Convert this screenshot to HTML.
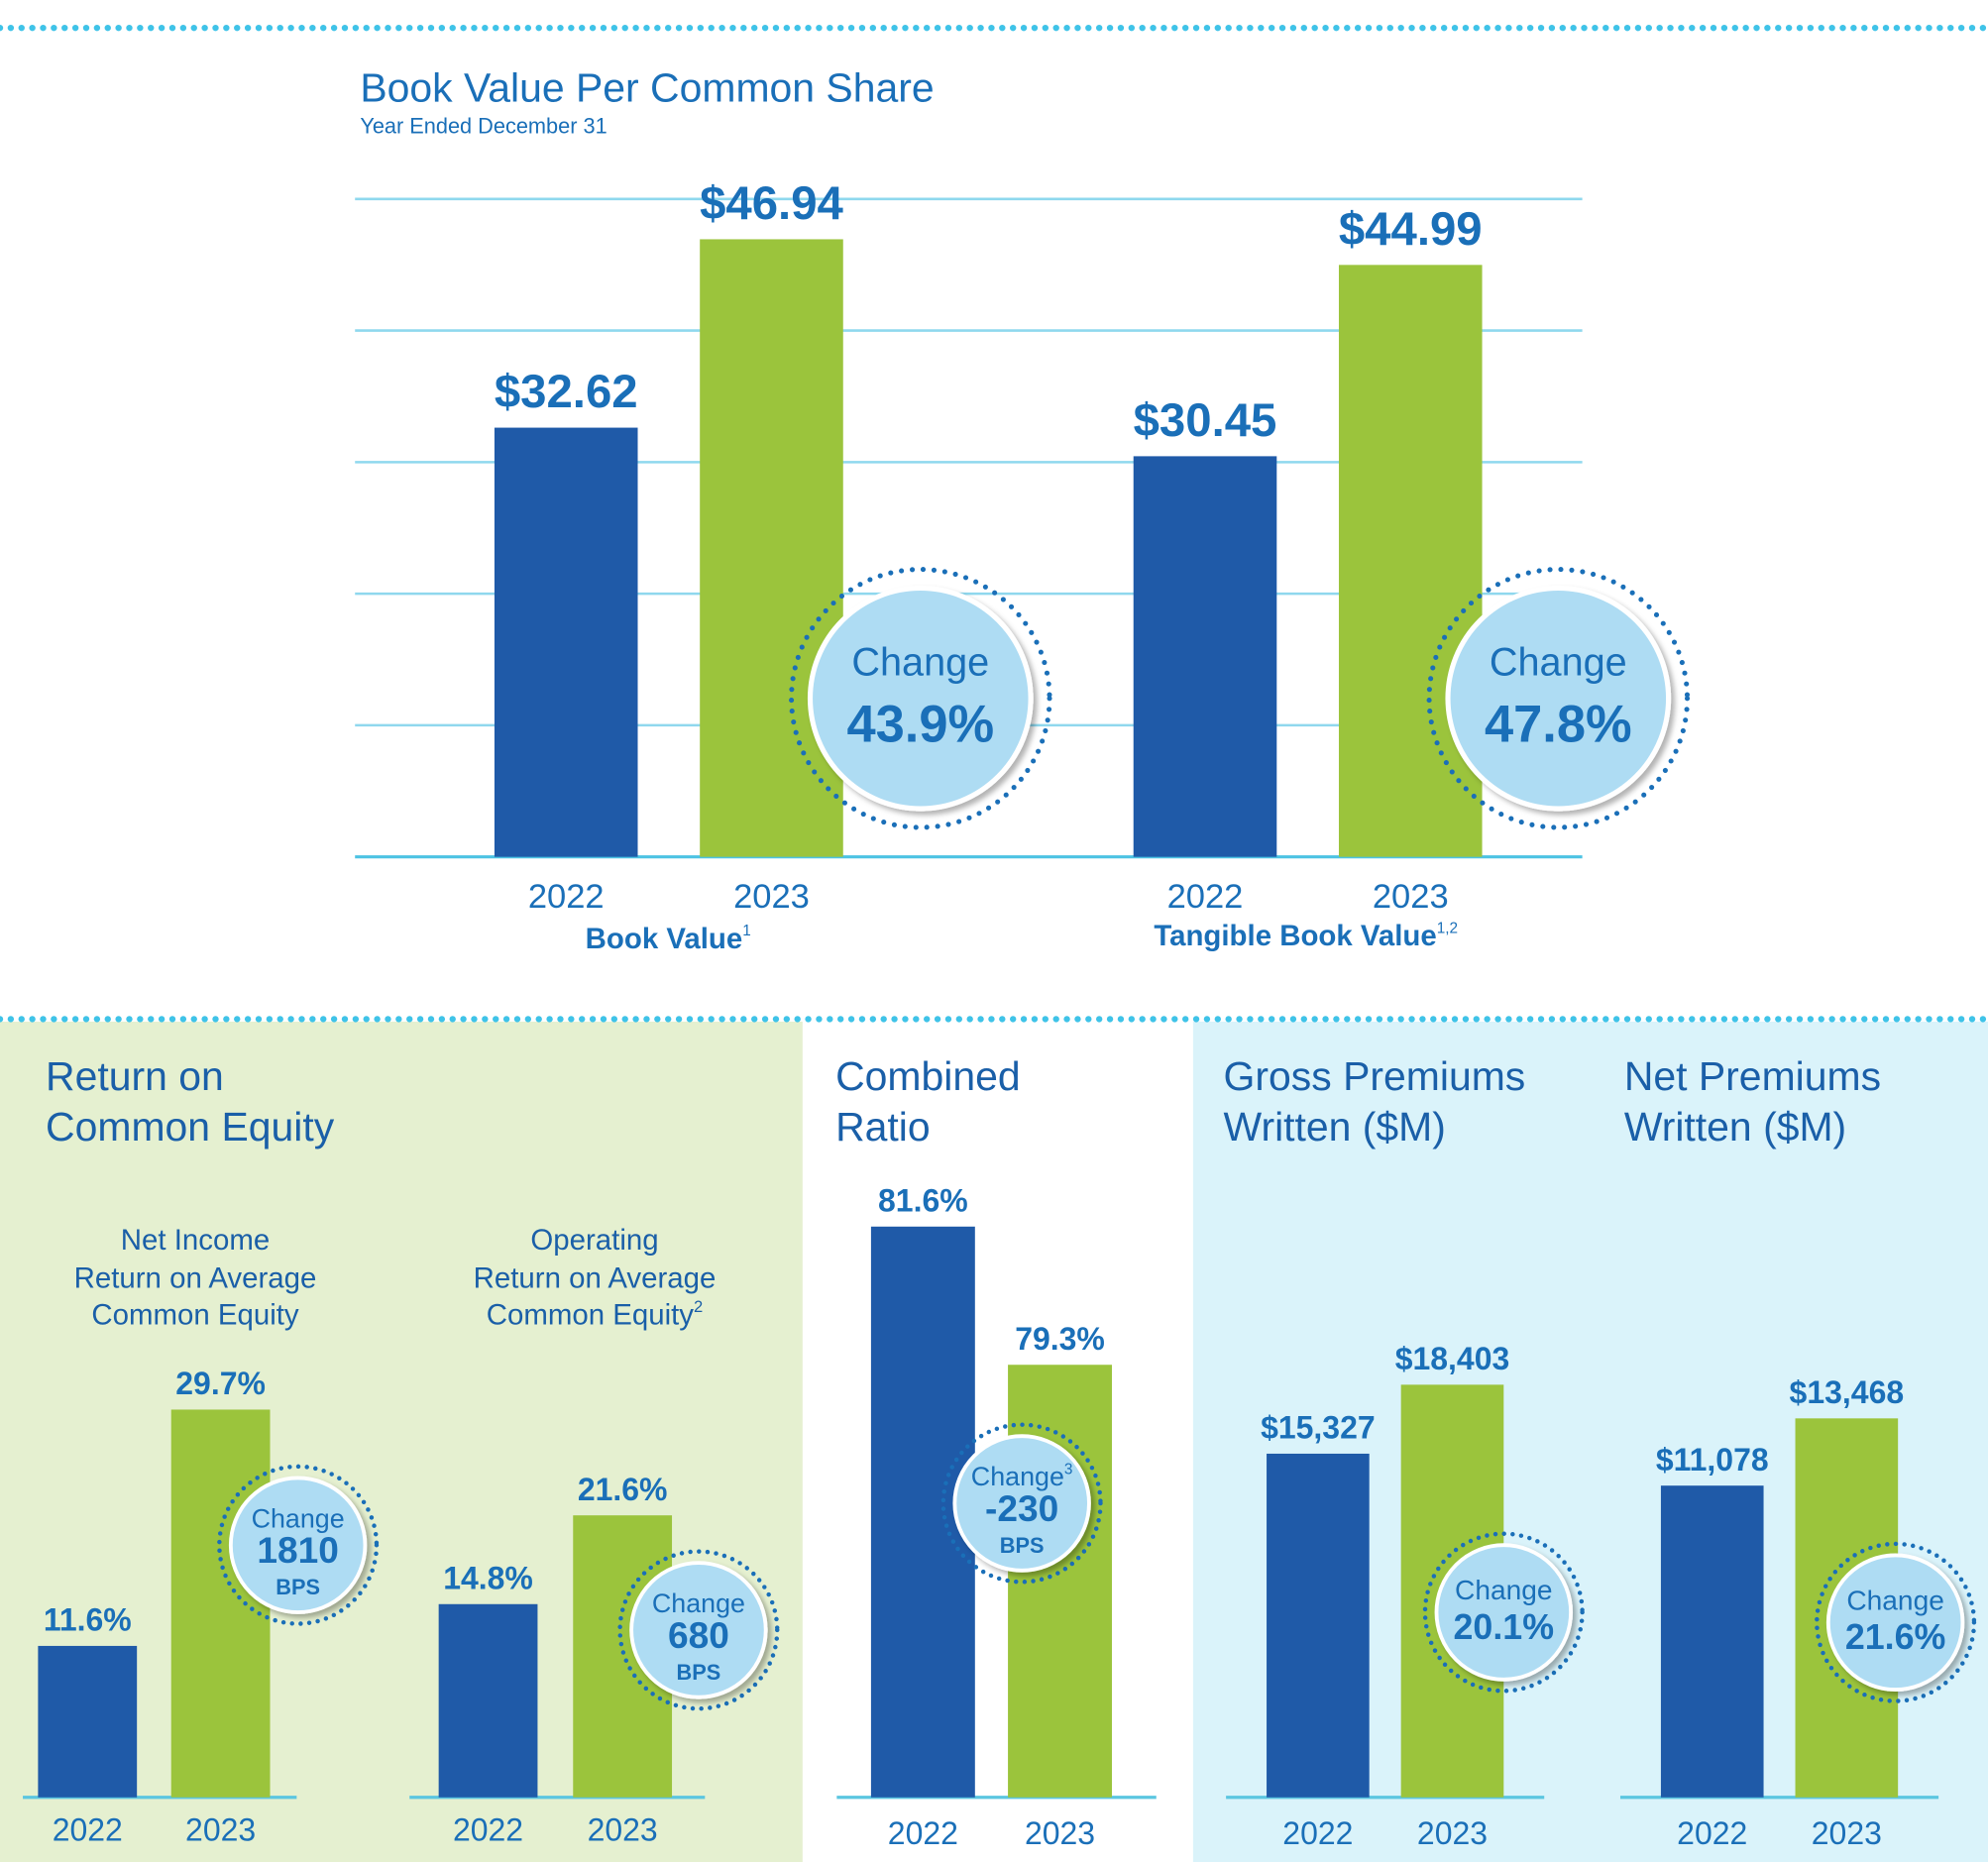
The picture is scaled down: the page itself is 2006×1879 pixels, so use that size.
<!DOCTYPE html>
<html><head><meta charset="utf-8"><style>
html,body{margin:0;padding:0;background:#fff;}
svg{display:block;}
text{font-family:"Liberation Sans",sans-serif;}
</style></head><body>
<svg id="c" xmlns="http://www.w3.org/2000/svg" width="2006" height="1879" viewBox="0 0 1568 1469" preserveAspectRatio="none">
<defs><filter id="sh" x="-20%" y="-20%" width="150%" height="150%"><feDropShadow dx="3" dy="3" stdDeviation="2" flood-color="#000" flood-opacity="0.3"/></filter></defs>
<rect x="0" y="806" width="633" height="663" fill="#e5f0d0"/>
<rect x="941" y="806" width="627" height="663" fill="#daf3fa"/>
<line x1="0" y1="22" x2="1568" y2="22" stroke="#3fc3e8" stroke-width="5" stroke-dasharray="0 8.5" stroke-linecap="round"/>
<line x1="0" y1="804" x2="1568" y2="804" stroke="#3fc3e8" stroke-width="5" stroke-dasharray="0 8.5" stroke-linecap="round"/>
<text x="284" y="80" font-size="32" fill="#1a6fb8">Book Value Per Common Share</text>
<text x="284" y="105" font-size="17" fill="#1a6fb8">Year Ended December 31</text>
<g fill="#1a5fa8" font-size="32">
<text x="36" y="860">Return on</text><text x="36" y="900">Common Equity</text>
<text x="659" y="860">Combined</text><text x="659" y="900">Ratio</text>
<text x="965" y="860">Gross Premiums</text><text x="965" y="900">Written ($M)</text>
<text x="1281" y="860">Net Premiums</text><text x="1281" y="900">Written ($M)</text>
</g>
<g fill="#1a5fa8" font-size="23" text-anchor="middle">
<text x="154" y="986">Net Income</text><text x="154" y="1016">Return on Average</text><text x="154" y="1045">Common Equity</text>
<text x="469" y="986">Operating</text><text x="469" y="1016">Return on Average</text><text x="469" y="1045">Common Equity<tspan font-size="13" dy="-10">2</tspan></text>
</g>
<g id="g"></g>
</svg>
<script>
const years = ["2022","2023"];
const bookValue = [32.62, 46.94];
const tangibleBookValue = [30.45, 44.99];
const bookLabels = ["$32.62","$46.94"];
const tangibleLabels = ["$30.45","$44.99"];
const gridTicks = [0,10,20,30,40,50];
const netIncomeROE = [11.6, 29.7];
const operatingROE = [14.8, 21.6];
const combinedRatio = [81.6, 79.3];
const grossPremiums = [15327, 18403];
const netPremiums = [11078, 13468];
const roeLabels1 = ["11.6%","29.7%"];
const roeLabels2 = ["14.8%","21.6%"];
const crLabels = ["81.6%","79.3%"];
const gpLabels = ["$15,327","$18,403"];
const npLabels = ["$11,078","$13,468"];

const NS="http://www.w3.org/2000/svg";
const G=document.getElementById('g');
const COLORS=["#1f5aa8","#9bc43c"];
function mk(tag,attrs,parent){const e=document.createElementNS(NS,tag);for(const k in attrs)e.setAttribute(k,attrs[k]);(parent||G).appendChild(e);return e;}
function txt(x,y,s,size,weight,name,anchor){const t=mk('text',{x:x,y:y,'font-size':size,'font-weight':weight||'normal',fill:'#1a6fb8','text-anchor':anchor||'middle'});t.textContent=s;


return t;}

// top chart
const base=676, pxPerDollar=10.38;
const yTop=v=>base-v*pxPerDollar;
gridTicks.forEach((t,i)=>{const l=mk('line',{x1:280,x2:1248,y1:yTop(t),y2:yTop(t),stroke:i==0?'#4cc3e3':'#8fd8ee','stroke-width':i==0?2.5:2});


});
function topGroup(vals,labels,x0,nm){vals.forEach((v,i)=>{const x=x0+i*162;const r=mk('rect',{x:x,y:yTop(v),width:113,height:v*pxPerDollar,fill:COLORS[i]});


txt(x+56.5,yTop(v)-16,labels[i],37,'bold',nm+'-value-label');
txt(x+56.5,716,years[i],27,'normal','x-axis-label');});}
topGroup(bookValue,bookLabels,390,'book-value');
topGroup(tangibleBookValue,tangibleLabels,894,'tangible-book-value');
let c1=txt(527,748,'Book Value',23,'bold','book-value-category');const s1=mk('tspan',{'font-size':12,dy:-10,'font-weight':'normal'},c1);s1.textContent='1';
let c2=txt(1030,746,'Tangible Book Value',23,'bold','tangible-book-value-category');const s2=mk('tspan',{'font-size':12,dy:-10,'font-weight':'normal'},c2);s2.textContent='1,2';

function badge(cx,cy,r,lines,name){const dr=r*1.17;
const d=mk('circle',{cx:cx,cy:cy,r:dr,fill:'none',stroke:'#1a6fb8','stroke-width':r>70?4:3.5,'stroke-dasharray':'0 '+(r>70?8.6:6.8),'stroke-linecap':'round'});


const c=mk('circle',{cx:cx,cy:cy,r:r,fill:'#aedcf3',stroke:'#fff','stroke-width':r>70?4:3,filter:'url(#sh)'});


lines.forEach(L=>{const t=txt(cx,L[1],L[0],L[2],L[3],name+'-text');if(L[4]){const sp=mk('tspan',{'font-size':12,dy:-9},t);sp.textContent=L[4];}});}
badge(726,551,87,[["Change",533,31,'normal'],["43.9%",585,41,'bold']],'book-value-change-badge');
badge(1229,551,87,[["Change",533,31,'normal'],["47.8%",585,41,'bold']],'tangible-change-badge');

// bottom charts
const bBase=1418;
function small(vals,labels,x0,x1,ax0,ax1,scale,nm,yearY){
const a=mk('line',{x1:ax0,x2:ax1,y1:bBase,y2:bBase,stroke:'#5bc6e0','stroke-width':2.5});


vals.forEach((v,i)=>{const x=i?x1:x0;const w=i?(x1w):(x0w);const h=scale(v);
const r=mk('rect',{x:x,y:bBase-h,width:bw,height:h,fill:COLORS[i]});


txt(x+bw/2,bBase-h-12,labels[i],25,'bold',nm+'-value-label');
txt(x+bw/2,yearY,years[i],25,'normal','x-axis-label');});}
let bw=78, x0w=0, x1w=0;
small(netIncomeROE,roeLabels1,30,135,18,234,v=>v*10.3,'net-income-roe',1452);
small(operatingROE,roeLabels2,346,452,323,556,v=>v*10.3,'operating-roe',1452);
bw=82;
small(combinedRatio,crLabels,687,795,660,912,v=>(v-72.1)*47.4,'combined-ratio',1455);
bw=81;
small(grossPremiums,gpLabels,999,1105,967,1218,v=>v*0.01769,'gross-premiums',1455);
small(netPremiums,npLabels,1310,1416,1278,1529,v=>v*0.0222,'net-premiums',1455);

badge(235,1219,53,[["Change",1205,21,'normal'],["1810",1233,29,'bold'],["BPS",1258,17,'bold']],'net-income-roe-change-badge');
badge(551,1286,53,[["Change",1272,21,'normal'],["680",1300,29,'bold'],["BPS",1325,17,'bold']],'operating-roe-change-badge');
badge(806,1186,53,[["Change",1172,21,'normal',"3"],["-230",1200,29,'bold'],["BPS",1225,17,'bold']],'combined-ratio-change-badge');
badge(1186,1272,53,[["Change",1262,22,'normal'],["20.1%",1293,28,'bold']],'gross-premiums-change-badge');
badge(1495,1280,53,[["Change",1270,22,'normal'],["21.6%",1301,28,'bold']],'net-premiums-change-badge');
</script>
</body></html>
